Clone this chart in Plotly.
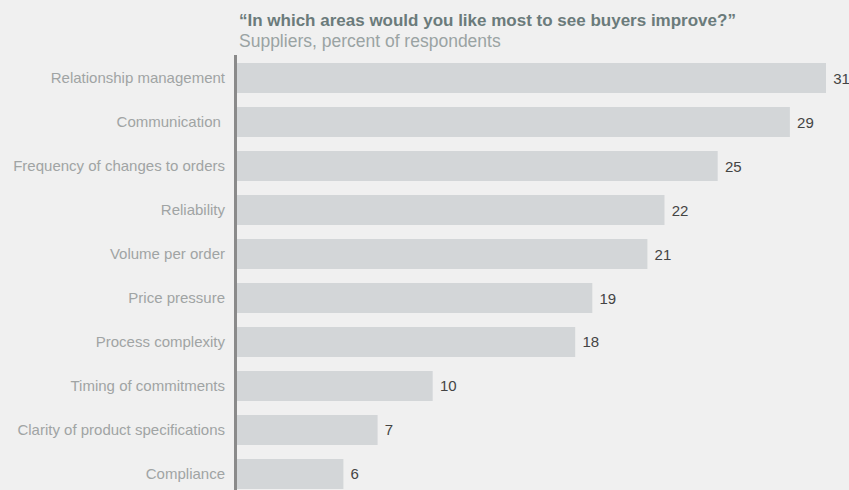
import plotly.graph_objects as go

categories = [
    "Relationship management",
    "Communication\u00a0",
    "Frequency of changes to orders",
    "Reliability",
    "Volume per order",
    "Price pressure",
    "Process complexity",
    "Timing of commitments",
    "Clarity of product specifications",
    "Compliance",
]
# bar lengths (labels show them rounded)
values = [31.0, 29.1, 25.3, 22.5, 21.6, 18.7, 17.8, 10.3, 7.4, 5.6]
labels = ["31", "29", "25", "22", "21", "19", "18", "10", "7", "6"]

title_text = "<b>\u201cIn which areas would you like most to see buyers improve?\u201d</b>"
subtitle_text = "Suppliers, percent of respondents"

font_family = "Liberation Sans, Arial, sans-serif"

fig = go.Figure(
    go.Bar(
        x=values,
        y=categories,
        orientation="h",
        width=0.68,
        marker=dict(color="#d3d6d8", line=dict(width=0)),
        text=["\u00a0" + s for s in labels],
        textposition="outside",
        textfont=dict(family=font_family, size=15, color="#444444"),
        cliponaxis=False,
        hoverinfo="skip",
    )
)

fig.update_layout(
    width=849,
    height=490,
    paper_bgcolor="#f0f0f0",
    plot_bgcolor="#f0f0f0",
    margin=dict(l=237, r=23, t=55, b=0),
    showlegend=False,
    font=dict(family=font_family),
    xaxis=dict(
        range=[0, 31],
        showgrid=False,
        zeroline=False,
        showticklabels=False,
        showline=False,
        fixedrange=True,
    ),
    yaxis=dict(
        categoryorder="array",
        categoryarray=categories,
        range=[9.364, -0.523],
        showgrid=False,
        zeroline=False,
        showline=True,
        linecolor="#8a8a8a",
        linewidth=3,
        ticks="",
        ticklabelstandoff=6,
        tickfont=dict(family=font_family, size=15, color="#a0a4a4"),
        fixedrange=True,
    ),
)

fig.add_annotation(
    text=title_text,
    xref="paper", yref="paper",
    x=0, y=1, xanchor="left", yanchor="bottom",
    yshift=23,
    showarrow=False,
    font=dict(family=font_family, size=17, color="#6b7b7b"),
)
fig.add_annotation(
    text=subtitle_text,
    xref="paper", yref="paper",
    x=0, y=1, xanchor="left", yanchor="bottom",
    yshift=2,
    showarrow=False,
    font=dict(family=font_family, size=17.5, color="#9aa3a3"),
)

fig.write_html(
    "out.html",
    config={"displayModeBar": False},
    post_script="document.body.style.margin='0';document.body.style.background='#f0f0f0';",
)
